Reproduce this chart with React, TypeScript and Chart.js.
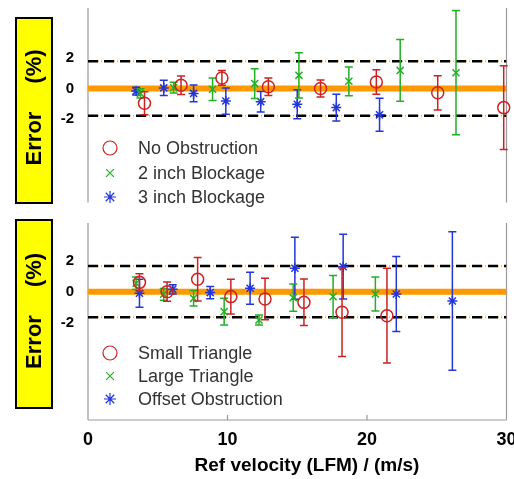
import React, { useEffect, useRef } from 'react';
import { Chart, registerables } from 'chart.js';
import { drawPoint } from 'chart.js/helpers';

Chart.register(...registerables);

// ---------- axis data ----------
const xMin = 0;
const xMax = 30;
const xTickStep = 10;
const yTickValues = [-2, 0, 2];
const topYRange = [-7.45, 5.26];
const bottomYRange = [-8.28, 4.43];
const topLimits = [1.78, -1.78];
const bottomLimits = [1.65, -1.65];

const xTitle = 'Ref velocity (LFM) / (m/s)';
const yTitleMain = 'Error';
const yTitleUnit = '(%)';

// ---------- top panel series ----------
const topLabels = ['No Obstruction', '2 inch Blockage', '3 inch Blockage'];

const noObstructionX = [4.05, 6.67, 9.6, 12.93, 16.67, 20.67, 25.07, 29.8];
const noObstructionY = [-0.97, 0.21, 0.69, 0.11, 0.0, 0.43, -0.28, -1.25];
const noObstructionErr = [0.75, 0.6, 0.48, 0.57, 0.55, 0.8, 1.12, 2.74];

const blockage2X = [3.76, 6.14, 8.93, 11.95, 15.12, 18.7, 22.38, 26.38];
const blockage2Y = [-0.32, 0.05, -0.05, 0.32, 0.86, 0.47, 1.18, 1.03];
const blockage2Err = [0.3, 0.35, 0.73, 0.97, 1.48, 0.94, 2.02, 4.06];

const blockage3X = [3.45, 5.43, 7.57, 9.88, 12.38, 15.0, 17.8, 20.9];
const blockage3Y = [-0.17, 0.04, -0.32, -0.82, -0.86, -1.03, -1.25, -1.72];
const blockage3Err = [0.25, 0.5, 0.55, 0.86, 0.67, 0.95, 0.88, 1.08];

// ---------- bottom panel series ----------
const bottomLabels = ['Small Triangle', 'Large Triangle', 'Offset Obstruction'];

const smallTriangleX = [3.69, 5.67, 7.86, 10.24, 12.69, 15.48, 18.21, 21.43];
const smallTriangleY = [0.6, 0.0, 0.8, -0.32, -0.47, -0.69, -1.33, -1.55];
const smallTriangleErr = [0.55, 0.62, 1.4, 1.12, 1.34, 1.5, 2.85, 3.06];

const largeTriangleX = [3.45, 5.43, 7.57, 9.76, 12.26, 14.71, 17.57, 20.6];
const largeTriangleY = [0.54, -0.17, -0.43, -1.29, -1.83, -0.39, -0.32, -0.15];
const largeTriangleErr = [0.4, 0.38, 0.5, 0.86, 0.32, 0.88, 1.36, 1.1];

const offsetX = [3.69, 6.07, 8.76, 11.62, 14.83, 18.29, 22.1, 26.12];
const offsetY = [-0.1, 0.15, -0.06, 0.22, 1.51, 1.61, -0.15, -0.6];
const offsetErr = [0.9, 0.3, 0.4, 1.04, 2.0, 2.09, 2.42, 4.47];

// ---------- styles ----------
const FONT = "'Liberation Sans', Arial, Helvetica, sans-serif";
const COLORS = ['#CC2222', '#22B024', '#2236DA'];
const POINT_STYLES = ['circle', 'crossRot', 'star'];
const POINT_RADII = [6, 5, 5];
const LEGEND_RADII = [7, 5.5, 6];

const errorBarPlugin = {
  id: 'errorBars',
  beforeDatasetDraw(chart: any, args: any) {
    const ds: any = chart.data.datasets[args.index];
    if (!ds.err) return;
    const xs = chart.scales.x;
    const ys = chart.scales.y;
    const ctx = chart.ctx;
    ctx.save();
    ctx.strokeStyle = ds.borderColor;
    ctx.lineWidth = 1.5;
    ds.data.forEach((p: any, j: number) => {
      const px = xs.getPixelForValue(p.x);
      const t = ys.getPixelForValue(p.y + ds.err[j]);
      const b = ys.getPixelForValue(p.y - ds.err[j]);
      ctx.beginPath();
      ctx.moveTo(px, t);
      ctx.lineTo(px, b);
      ctx.moveTo(px - 4, t);
      ctx.lineTo(px + 4, t);
      ctx.moveTo(px - 4, b);
      ctx.lineTo(px + 4, b);
      ctx.stroke();
    });
    ctx.restore();
  },
};

interface PanelSpec {
  series: { label: string; x: number[]; y: number[]; err: number[] }[];
  limits: number[];
  yRange: number[];
  showX: boolean;
  padTop: number;
  padBottom: number;
  legendOffsets: number[];
  boxTop: number;
  boxBottom: number;
}

function makeChart(canvas: HTMLCanvasElement, spec: PanelSpec) {
  const datasets: any[] = [];
  datasets.push({
    type: 'line',
    data: [{ x: xMin, y: 0 }, { x: xMax, y: 0 }],
    borderColor: '#FF9900',
    borderWidth: 6,
    pointRadius: 0,
    order: 30,
  });
  spec.limits.forEach((L) => {
    datasets.push({
      type: 'line',
      data: [{ x: xMin, y: L }, { x: xMax, y: L }],
      borderColor: '#FFA830',
      borderWidth: 1.5,
      borderDash: [3, 2, 1, 2],
      pointRadius: 0,
      order: 25,
    });
    datasets.push({
      type: 'line',
      data: [{ x: xMin, y: L }, { x: xMax, y: L }],
      borderColor: '#000000',
      borderWidth: 2.5,
      borderDash: [10, 6],
      pointRadius: 0,
      order: 20,
    });
  });
  spec.series.forEach((s, i) => {
    datasets.push({
      type: 'scatter',
      label: s.label,
      data: s.x.map((x, j) => ({ x, y: s.y[j] })),
      err: s.err,
      showLine: false,
      pointStyle: POINT_STYLES[i],
      pointRadius: POINT_RADII[i],
      pointBorderWidth: 1.5,
      borderWidth: 1.5,
      borderColor: COLORS[i],
      backgroundColor: 'rgba(0,0,0,0)',
      order: i,
      clip: false,
    });
  });

  const decorPlugin = {
    id: 'decor',
    beforeDatasetsDraw(chart: any) {
      const { ctx, chartArea } = chart;
      const { left, right, top, bottom } = chartArea;
      ctx.save();
      ctx.strokeStyle = '#9a9a9a';
      ctx.lineWidth = 1.2;
      ctx.beginPath();
      ctx.moveTo(left, top);
      ctx.lineTo(left, bottom);
      ctx.moveTo(right, top);
      ctx.lineTo(right, bottom);
      if (spec.showX) {
        ctx.moveTo(left, bottom);
        ctx.lineTo(right, bottom);
        const xs = chart.scales.x;
        for (let v = xMin + xTickStep; v < xMax; v += xTickStep) {
          const px = xs.getPixelForValue(v);
          ctx.moveTo(px, bottom);
          ctx.lineTo(px, bottom - 5);
        }
      }
      ctx.stroke();
      // yellow y-title box
      const bx = 16, bw = 36;
      ctx.fillStyle = '#FFFF00';
      ctx.fillRect(bx, spec.boxTop, bw, spec.boxBottom - spec.boxTop);
      ctx.strokeStyle = '#000';
      ctx.lineWidth = 2;
      ctx.strokeRect(bx, spec.boxTop, bw, spec.boxBottom - spec.boxTop);
      const cy = (spec.boxTop + spec.boxBottom) / 2;
      ctx.fillStyle = '#000';
      ctx.font = `bold 22px ${FONT}`;
      ctx.textAlign = 'center';
      ctx.textBaseline = 'middle';
      ctx.save();
      ctx.translate(bx + bw / 2 + 1, cy + 28);
      ctx.rotate(-Math.PI / 2);
      ctx.fillText(yTitleMain, 0, 0);
      ctx.restore();
      ctx.save();
      ctx.translate(bx + bw / 2 + 1, cy - 44);
      ctx.rotate(-Math.PI / 2);
      ctx.fillText(yTitleUnit, 0, 0);
      ctx.restore();
      ctx.restore();
    },
    afterDraw(chart: any) {
      const { ctx, chartArea } = chart;
      ctx.save();
      // legend
      spec.series.forEach((s, i) => {
        const y = chartArea.top + spec.legendOffsets[i];
        const x = chartArea.left + 22;
        ctx.strokeStyle = COLORS[i];
        ctx.fillStyle = 'rgba(0,0,0,0)';
        ctx.lineWidth = 1.2;
        drawPoint(ctx, { pointStyle: POINT_STYLES[i], radius: LEGEND_RADII[i], borderWidth: 1.2, rotation: 0 } as any, x, y);
        ctx.fillStyle = '#333';
        ctx.font = `18px ${FONT}`;
        ctx.textAlign = 'left';
        ctx.textBaseline = 'middle';
        ctx.fillText(s.label, chartArea.left + 50, y + 1);
      });
      if (spec.showX) {
        ctx.fillStyle = '#000';
        ctx.font = `bold 19px ${FONT}`;
        ctx.textAlign = 'center';
        ctx.textBaseline = 'middle';
        ctx.fillText(xTitle, 307, chartArea.bottom + 46);
      }
      ctx.restore();
    },
  };

  return new Chart(canvas, {
    type: 'scatter',
    data: { datasets },
    plugins: [errorBarPlugin, decorPlugin],
    options: {
      responsive: false,
      animation: false,
      devicePixelRatio: 1,
      layout: { padding: { top: spec.padTop, bottom: spec.padBottom, left: 0, right: 6 } },
      plugins: { legend: { display: false }, tooltip: { enabled: false }, title: { display: false } },
      scales: {
        x: {
          type: 'linear',
          min: xMin,
          max: xMax,
          display: spec.showX,
          grid: { display: false, drawTicks: false },
          border: { display: false },
          ticks: {
            stepSize: xTickStep,
            color: '#000',
            padding: 9,
            maxRotation: 0,
            font: { family: FONT, size: 18, weight: 'bold' },
          },
          afterFit: (s: any) => {
            s.height = spec.showX ? 59 : 0;
            s.paddingLeft = 0;
            s.paddingRight = 0;
          },
        },
        y: {
          type: 'linear',
          min: spec.yRange[0],
          max: spec.yRange[1],
          grid: { display: false, drawTicks: false },
          border: { display: false },
          afterBuildTicks: (s: any) => {
            s.ticks = yTickValues.map((v) => ({ value: v }));
          },
          ticks: {
            color: '#000',
            padding: 14,
            font: { family: FONT, size: 15, weight: 'bold' },
            callback: (v: any) => String(v),
          },
          afterFit: (s: any) => {
            s.width = 88;
            s.paddingTop = 0;
            s.paddingBottom = 0;
          },
        },
      },
    } as any,
  });
}

export default function App() {
  const topRef = useRef<HTMLCanvasElement>(null);
  const bottomRef = useRef<HTMLCanvasElement>(null);

  useEffect(() => {
    const top = makeChart(topRef.current!, {
      series: [
        { label: topLabels[0], x: noObstructionX, y: noObstructionY, err: noObstructionErr },
        { label: topLabels[1], x: blockage2X, y: blockage2Y, err: blockage2Err },
        { label: topLabels[2], x: blockage3X, y: blockage3Y, err: blockage3Err },
      ],
      limits: topLimits,
      yRange: topYRange,
      showX: false,
      padTop: 8,
      padBottom: 5,
      legendOffsets: [140, 165, 189],
      boxTop: 18,
      boxBottom: 203,
    });
    const bottom = makeChart(bottomRef.current!, {
      series: [
        { label: bottomLabels[0], x: smallTriangleX, y: smallTriangleY, err: smallTriangleErr },
        { label: bottomLabels[1], x: largeTriangleX, y: largeTriangleY, err: largeTriangleErr },
        { label: bottomLabels[2], x: offsetX, y: offsetY, err: offsetErr },
      ],
      limits: bottomLimits,
      yRange: bottomYRange,
      showX: true,
      padTop: 13,
      padBottom: 0,
      legendOffsets: [130, 153, 176],
      boxTop: 10,
      boxBottom: 198,
    });
    return () => {
      top.destroy();
      bottom.destroy();
    };
  }, []);

  return (
    <div style={{ position: 'absolute', left: 0, top: 0, width: 514, height: 479, background: '#fff' }}>
      <canvas ref={topRef} width={514} height={210} style={{ position: 'absolute', left: 0, top: 0, display: 'block' }} />
      <canvas ref={bottomRef} width={514} height={269} style={{ position: 'absolute', left: 0, top: 210, display: 'block' }} />
    </div>
  );
}
